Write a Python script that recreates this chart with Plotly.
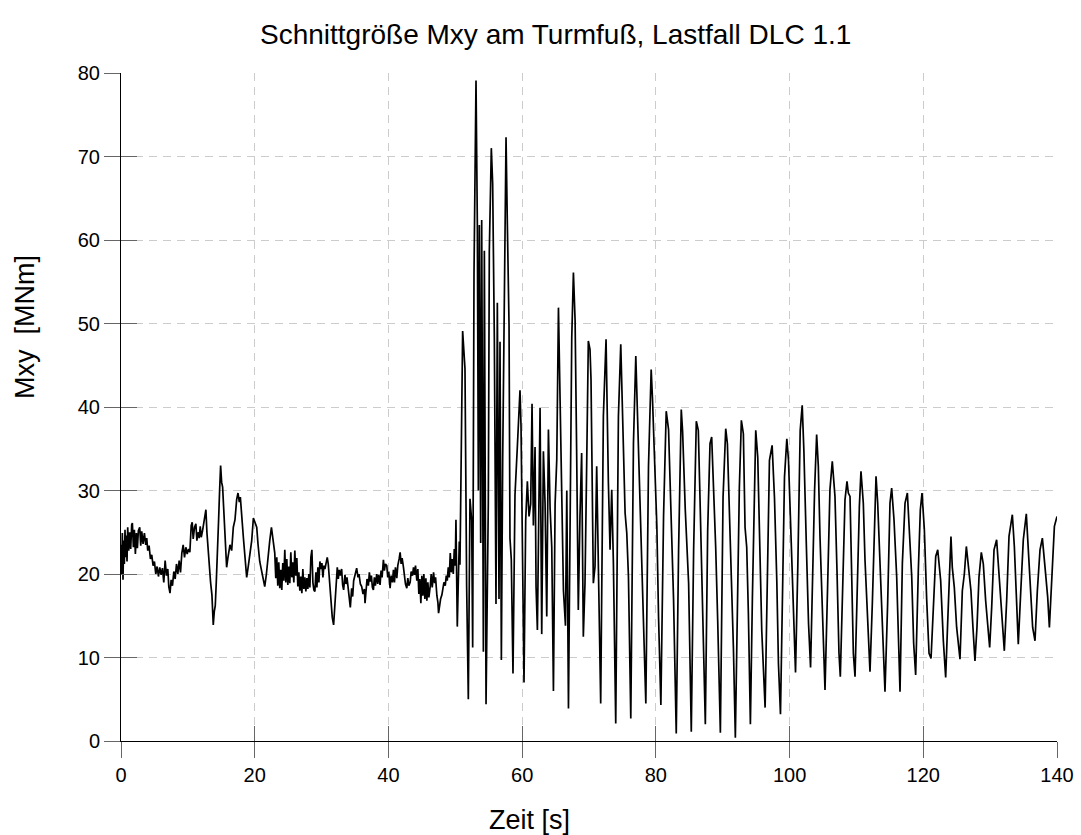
import plotly.graph_objects as go

# ---- data: (time [s], Mxy [MNm]) ----
calm_0_16 = [
    (0.0, 23.5), (0.1, 20.0), (0.2, 24.9), (0.3, 19.3), (0.4, 24.0), (0.5, 21.2), (0.6, 25.3),
    (0.7, 22.0), (0.8, 24.6), (0.9, 21.5), (1.0, 25.6), (1.15, 22.8), (1.3, 25.0), (1.45, 23.0),
    (1.6, 25.9), (1.7, 26.1), (1.85, 23.2), (2.0, 25.3), (2.15, 22.4), (2.3, 24.9), (2.45, 23.1),
    (2.6, 25.2), (2.8, 25.6), (2.95, 23.4), (3.1, 25.1), (3.3, 23.6), (3.5, 24.9), (3.7, 23.5),
    (3.85, 24.3), (4.0, 22.8), (4.2, 23.4), (4.4, 21.8), (4.6, 22.3), (4.8, 21.0), (5.0, 21.5),
    (5.2, 20.0), (5.4, 20.9), (5.6, 19.7), (5.8, 20.8), (6.0, 19.9), (6.2, 20.7), (6.4, 19.0),
    (6.6, 21.6), (6.8, 19.8), (7.0, 20.6), (7.15, 18.5), (7.33, 17.7), (7.5, 19.3), (7.7, 18.6),
    (7.9, 20.3), (8.1, 19.4), (8.3, 21.2), (8.5, 20.0), (8.7, 21.6), (8.9, 20.2), (9.1, 22.5),
    (9.3, 23.5), (9.5, 22.0), (9.7, 23.2), (9.9, 22.4), (10.1, 23.0), (10.3, 22.6), (10.5, 25.8),
    (10.65, 26.2), (10.8, 24.2), (11.0, 25.6), (11.2, 26.0), (11.35, 24.0), (11.5, 25.0),
    (11.7, 24.3), (11.85, 25.7), (12.0, 24.4), (12.2, 25.2), (12.4, 26.3), (12.55, 27.0),
    (12.7, 27.7), (12.85, 25.0), (13.0, 23.2), (13.2, 21.0), (13.4, 19.0), (13.6, 17.5),
    (13.8, 13.9), (13.95, 15.5), (14.1, 16.2), (14.25, 19.0), (14.4, 21.5), (14.6, 26.5),
    (14.75, 30.0), (14.9, 33.0), (15.05, 31.0), (15.2, 30.4), (15.35, 28.0), (15.55, 24.4),
    (15.7, 22.0), (15.8, 20.8),
]
calm_16_35 = [
    (16.0, 22.0), (16.3, 23.5), (16.55, 22.8), (16.8, 25.6), (17.05, 26.5), (17.3, 28.9),
    (17.5, 29.7), (17.7, 28.6), (17.85, 29.2), (18.0, 28.0), (18.15, 26.0), (18.3, 24.4),
    (18.55, 21.5), (18.8, 19.6), (19.05, 21.0), (19.3, 22.3), (19.55, 24.0), (19.8, 26.7),
    (20.05, 26.0), (20.3, 25.6), (20.5, 23.5), (20.75, 21.5), (21.0, 20.5), (21.25, 19.5),
    (21.5, 18.5), (21.75, 20.0), (22.0, 22.5), (22.25, 24.0), (22.5, 25.6), (22.75, 24.0),
    (23.0, 22.5), (23.15, 19.5), (23.3, 22.0), (23.45, 18.6), (23.6, 21.4), (23.75, 18.3),
    (23.9, 20.5), (24.05, 18.1), (24.2, 21.3), (24.35, 19.2), (24.5, 22.9), (24.65, 19.0),
    (24.8, 21.8), (24.95, 18.7), (25.1, 20.9), (25.25, 18.9), (25.4, 22.6), (25.55, 19.6),
    (25.7, 21.4), (25.85, 19.0), (26.0, 22.8), (26.15, 19.8), (26.3, 21.9), (26.45, 18.5),
    (26.6, 20.2), (26.75, 18.0), (26.9, 19.7), (27.05, 17.7), (27.2, 20.6), (27.35, 18.2),
    (27.5, 19.6), (27.65, 17.9), (27.8, 19.5), (27.95, 18.2), (28.1, 20.0), (28.25, 18.4),
    (28.4, 22.0), (28.55, 22.9), (28.7, 19.0), (28.85, 18.1), (29.0, 17.9), (29.15, 20.2),
    (29.3, 18.4), (29.45, 20.8), (29.6, 19.0), (29.75, 21.5), (29.9, 20.6), (30.05, 21.3),
    (30.2, 19.6), (30.35, 21.0), (30.5, 20.6), (30.7, 21.4), (30.85, 22.0), (31.0, 21.2),
    (31.2, 19.0), (31.4, 17.2), (31.6, 14.8), (31.8, 13.9), (32.0, 17.0), (32.2, 19.6),
    (32.35, 20.8), (32.5, 19.4), (32.65, 20.5), (32.8, 19.8), (33.0, 20.6), (33.15, 18.7),
    (33.3, 18.1), (33.5, 19.9), (33.65, 18.8), (33.8, 19.6), (34.0, 18.0), (34.15, 16.9),
    (34.3, 16.0), (34.5, 18.3), (34.65, 17.3), (34.8, 19.2),
]
calm_35_51 = [
    (35.0, 19.8), (35.25, 20.7), (35.45, 19.6), (35.6, 20.0), (35.8, 18.8), (36.0, 18.5),
    (36.2, 17.6), (36.4, 18.2), (36.5, 16.5), (36.65, 17.8), (36.8, 19.4), (37.0, 18.6),
    (37.15, 20.2), (37.3, 19.1), (37.45, 19.8), (37.6, 18.4), (37.75, 18.1), (37.9, 19.6),
    (38.05, 18.6), (38.25, 20.0), (38.4, 18.8), (38.55, 19.9), (38.75, 18.7), (38.9, 20.4),
    (39.05, 19.6), (39.25, 21.7), (39.4, 20.4), (39.55, 21.2), (39.75, 21.0), (39.9, 19.6),
    (40.05, 20.3), (40.25, 18.3), (40.4, 19.8), (40.6, 19.0), (40.75, 20.5), (40.9, 19.0),
    (41.05, 20.8), (41.25, 19.5), (41.4, 21.0), (41.6, 21.8), (41.75, 22.6), (41.9, 21.2),
    (42.05, 21.9), (42.25, 20.8), (42.4, 19.6), (42.55, 18.8), (42.75, 18.3), (42.9, 19.5),
    (43.05, 18.6), (43.25, 19.0), (43.4, 20.3), (43.6, 19.8), (43.75, 20.8), (43.9, 19.9),
    (44.05, 21.0), (44.25, 19.2), (44.4, 20.6), (44.55, 17.6), (44.7, 19.4), (44.85, 16.5),
    (45.0, 19.8), (45.15, 17.4), (45.3, 20.0), (45.45, 17.0), (45.6, 19.5), (45.75, 16.8),
    (45.9, 19.0), (46.05, 17.2), (46.25, 18.5), (46.4, 20.0), (46.55, 18.4), (46.75, 20.2),
    (46.9, 18.9), (47.05, 19.6), (47.25, 17.4), (47.4, 16.6), (47.5, 15.3), (47.65, 16.2),
    (47.8, 17.0), (48.0, 17.5), (48.15, 18.2), (48.3, 19.0), (48.5, 18.6), (48.65, 19.8),
    (48.8, 19.2), (48.95, 20.8), (49.1, 19.6), (49.25, 22.5), (49.4, 20.2), (49.55, 21.8),
    (49.7, 20.0), (49.85, 23.0), (50.0, 21.0), (50.1, 26.5), (50.2, 20.0), (50.3, 13.7),
    (50.45, 19.0), (50.6, 23.9),
]
transient_51_72 = [
    (50.7, 21.1), (51.1, 49.1), (51.45, 44.6), (51.7, 18.5), (51.95, 5.0), (52.2, 29.0),
    (52.45, 26.4), (52.6, 11.2), (52.8, 56.0), (53.1, 79.1), (53.3, 61.8), (53.45, 30.0),
    (53.6, 61.8), (53.8, 23.7), (53.95, 62.4), (54.2, 10.7), (54.35, 58.7), (54.6, 4.4),
    (54.94, 28.4), (55.09, 58.7), (55.39, 71.0), (55.59, 66.8), (55.84, 48.3), (56.09, 16.4),
    (56.29, 52.5), (56.54, 17.0), (56.69, 47.8), (56.89, 9.7), (57.09, 33.7), (57.34, 54.5),
    (57.59, 72.3), (57.79, 61.8), (58.04, 49.8), (58.18, 24.3), (58.38, 21.7), (58.63, 8.1),
    (58.93, 29.5), (59.28, 35.2), (59.68, 42.0), (59.83, 37.8), (60.03, 20.1), (60.28, 7.0),
    (60.53, 26.4), (60.78, 31.1), (61.03, 26.9), (61.28, 28.4), (61.48, 40.4), (61.68, 25.8),
    (61.93, 35.2), (62.08, 18.5), (62.28, 13.3), (62.48, 26.9), (62.68, 39.9), (62.93, 12.8),
    (63.18, 34.7), (63.43, 28.4), (63.68, 14.9), (63.93, 37.3), (64.18, 27.9), (64.43, 23.2),
    (64.68, 6.0), (64.93, 28.4), (65.18, 33.7), (65.43, 51.9), (65.68, 38.9), (65.93, 28.4),
    (66.18, 18.0), (66.48, 13.8), (66.68, 30.0), (66.93, 3.9), (67.17, 25.8), (67.42, 48.3),
    (67.67, 56.1), (67.92, 50.4), (68.15, 34.9), (68.4, 15.7), (68.65, 26.9), (68.9, 34.5),
    (69.15, 12.5), (69.4, 18.9), (69.65, 32.9), (69.9, 47.9), (70.15, 46.9), (70.3, 43.3),
    (70.65, 18.9), (70.9, 20.9), (71.15, 32.9), (71.4, 20.9), (71.75, 4.5),
]
decay_72_104 = [
    (72.15, 38.9), (72.55, 48.1), (72.9, 30.9), (73.15, 22.9), (73.4, 30.1), (73.65, 21.3),
    (74.0, 2.1), (74.4, 38.9), (74.75, 47.5), (75.05, 36.9), (75.4, 27.3), (75.65, 24.9),
    (75.9, 19.7), (76.25, 2.7), (76.65, 35.7), (77.0, 46.1), (77.4, 34.9), (77.75, 26.9),
    (78.05, 18.9), (78.5, 4.5), (78.9, 32.9), (79.3, 44.5), (79.5, 40.9), (79.8, 32.9),
    (80.15, 25.7), (80.4, 14.9), (80.75, 4.3), (81.15, 26.9), (81.55, 39.5), (81.9, 37.3),
    (82.25, 26.9), (82.65, 16.9), (83.05, 0.9), (83.4, 22.9), (83.8, 39.7), (84.0, 37.1),
    (84.4, 27.7), (84.9, 18.9), (85.3, 1.1), (85.65, 22.9), (86.05, 38.3), (86.35, 37.2),
    (86.6, 29.2), (86.95, 17.2), (87.4, 2.0), (87.75, 25.2), (88.1, 35.6), (88.35, 36.4),
    (88.6, 31.2), (88.95, 23.2), (89.25, 14.4), (89.65, 1.0), (90.05, 29.2), (90.45, 37.4),
    (90.7, 35.6), (90.95, 28.4), (91.25, 22.0), (91.6, 11.2), (91.89, 0.4), (92.24, 19.2),
    (92.49, 30.4), (92.79, 38.4), (93.09, 36.8), (93.34, 25.6), (93.59, 23.2), (93.84, 15.2),
    (94.14, 2.0), (94.44, 17.2), (94.69, 30.0), (94.94, 37.2), (95.24, 34.0), (95.49, 26.0),
    (95.84, 13.2), (96.34, 4.0), (96.69, 21.2), (96.99, 33.6), (97.39, 35.4), (97.74, 29.2),
    (98.09, 19.2), (98.34, 9.2), (98.64, 3.2), (98.99, 19.2), (99.24, 31.6), (99.59, 36.2),
    (99.84, 33.6), (100.19, 25.2), (100.54, 15.2), (100.89, 8.2), (101.24, 21.2),
    (101.59, 37.2), (101.89, 40.2), (102.14, 34.8), (102.49, 24.0), (102.84, 14.0),
    (103.14, 8.8), (103.44, 19.2), (103.74, 30.0),
]
decay_104_140 = [
    (104.05, 36.7), (104.3, 32.9), (104.55, 24.5), (104.9, 14.5), (105.3, 6.1), (105.69, 18.5),
    (106.04, 30.1), (106.39, 33.5), (106.79, 29.3), (107.09, 20.5), (107.39, 10.5),
    (107.59, 7.7), (107.89, 16.5), (108.29, 28.9), (108.59, 31.1), (108.79, 29.7),
    (109.04, 29.3), (109.29, 20.5), (109.54, 10.5), (109.79, 7.7), (110.14, 20.5),
    (110.44, 28.1), (110.68, 32.3), (111.03, 28.5), (111.28, 21.7), (111.68, 14.1),
    (112.03, 8.3), (112.38, 16.5), (112.68, 24.9), (112.93, 31.7), (113.18, 28.5),
    (113.53, 20.5), (113.93, 12.5), (114.27, 5.9), (114.67, 16.5), (115.02, 28.5),
    (115.27, 30.3), (115.62, 26.5), (116.02, 19.7), (116.27, 12.5), (116.52, 5.9),
    (116.87, 21.3), (117.27, 28.5), (117.62, 29.7), (117.87, 25.7), (118.27, 19.7),
    (118.56, 11.7), (118.86, 7.9), (119.26, 20.5), (119.56, 27.7), (119.81, 29.7),
    (120.16, 25.3), (120.51, 16.9), (120.86, 10.5), (121.16, 9.9), (121.51, 16.5),
    (121.86, 22.1), (122.16, 22.9), (122.6, 19.2), (123.0, 12.0), (123.35, 7.6), (123.64, 14.0),
    (123.89, 20.4), (124.14, 24.5), (124.34, 20.8), (124.64, 18.4), (124.99, 13.6),
    (125.49, 9.8), (125.84, 18.0), (126.14, 20.0), (126.44, 23.3), (126.74, 20.8),
    (127.13, 18.0), (127.43, 13.6), (127.73, 9.6), (128.03, 13.6), (128.33, 19.6),
    (128.68, 22.6), (128.98, 21.2), (129.33, 16.8), (129.63, 13.6), (129.93, 11.2),
    (130.23, 16.0), (130.58, 22.9), (130.97, 24.1), (131.32, 20.0), (131.72, 16.0),
    (132.12, 10.8), (132.47, 16.8), (132.82, 24.5), (133.32, 27.1), (133.62, 23.3),
    (133.91, 17.6), (134.21, 11.6), (134.56, 17.6), (134.96, 24.1), (135.41, 27.2),
    (135.61, 24.5), (135.96, 19.2), (136.36, 13.6), (136.71, 12.0), (137.06, 18.0),
    (137.46, 22.9), (137.81, 24.3), (138.21, 20.8), (138.61, 17.2), (138.86, 13.6),
    (139.21, 19.2), (139.61, 25.7), (140.0, 26.9),
]

x_ticks = [0, 20, 40, 60, 80, 100, 120, 140]
y_ticks = [0, 10, 20, 30, 40, 50, 60, 70, 80]

segments = [calm_0_16, calm_16_35, calm_35_51, transient_51_72, decay_72_104, decay_104_140]
time_s = [p[0] for seg in segments for p in seg]
mxy = [p[1] for seg in segments for p in seg]

FONT = "Liberation Sans, Arial, sans-serif"
W, H = 1081, 835
L, R, T, B = 121, 24, 73, 94
PW, PH = W - L - R, H - T - B

fig = go.Figure()
fig.add_trace(go.Scatter(x=time_s, y=mxy, mode="lines",
                         line=dict(color="black", width=1.7), showlegend=False,
                         hoverinfo="x+y"))
# dummy trace carrying the overlay axes (inside tick marks)
fig.add_trace(go.Scatter(x=[None], y=[None], xaxis="x2", yaxis="y2",
                         showlegend=False, hoverinfo="skip"))

grid = dict(showgrid=True, gridcolor="#cccccc", gridwidth=1, griddash="8px,6px",
            zeroline=False, showline=True, linecolor="black", linewidth=1,
            ticks="outside", ticklen=16, tickcolor="#666666", tickwidth=1, automargin=False,
            tickfont=dict(family=FONT, size=20, color="black"))

fig.update_layout(
    width=W, height=H,
    margin=dict(l=L, r=R, t=T, b=B, autoexpand=False),
    paper_bgcolor="white", plot_bgcolor="white",
    font=dict(family=FONT, color="black"),
    xaxis=dict(range=[0, 140], tickvals=x_ticks, **grid),
    yaxis=dict(range=[0, 80], tickvals=y_ticks, **grid),
    xaxis2=dict(range=[0, 140], overlaying="x", tickvals=x_ticks, ticks="inside",
                ticklen=15, tickcolor="#666666", showticklabels=False, showgrid=False,
                zeroline=False, showline=False, automargin=False),
    yaxis2=dict(range=[0, 80], overlaying="y", tickvals=y_ticks, ticks="inside",
                ticklen=16, tickcolor="#666666", showticklabels=False, showgrid=False,
                zeroline=False, showline=False, automargin=False),
    annotations=[
        dict(text="Schnittgröße Mxy am Turmfuß, Lastfall DLC 1.1", xref="paper", yref="paper",
             x=(555 - L) / PW, y=(H - B - 35) / PH, xanchor="center", yanchor="middle",
             showarrow=False, font=dict(family=FONT, size=28, color="black")),
        dict(text="Zeit [s]", xref="paper", yref="paper",
             x=(529 - L) / PW, y=(H - B - 820) / PH, xanchor="center", yanchor="middle",
             showarrow=False, font=dict(family=FONT, size=27, color="black")),
        dict(text="Mxy  [MNm]", xref="paper", yref="paper", textangle=-90,
             x=(25 - L) / PW, y=(H - B - 327) / PH, xanchor="center", yanchor="middle",
             showarrow=False, font=dict(family=FONT, size=27, color="black")),
    ],
)

fig.write_html("out.html")
